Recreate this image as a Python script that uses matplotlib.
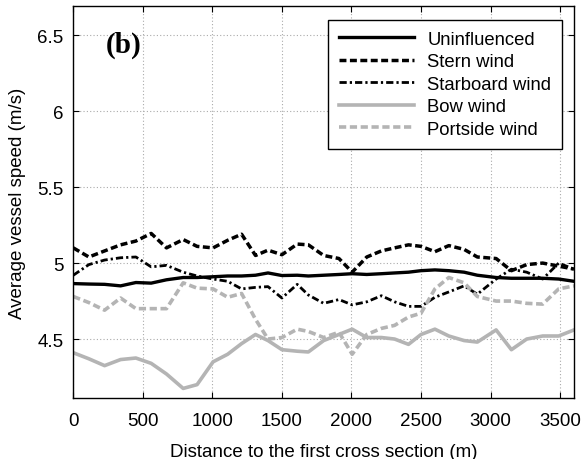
import matplotlib
matplotlib.use("Agg")
import matplotlib.pyplot as plt

distance = [0, 112, 225, 340, 450, 560, 670, 790, 890, 1005, 1110, 1210, 1310, 1400,
            1500, 1610, 1690, 1800, 1910, 2005, 2110, 2215, 2310, 2410, 2500, 2600,
            2700, 2810, 2905, 3040, 3150, 3260, 3375, 3490, 3600]

uninfluenced = [4.865, 4.862, 4.86, 4.85, 4.872, 4.868, 4.89, 4.905, 4.905, 4.91, 4.915,
                4.915, 4.92, 4.935, 4.918, 4.92, 4.915, 4.92, 4.925, 4.93, 4.925, 4.93,
                4.935, 4.94, 4.95, 4.955, 4.95, 4.94, 4.92, 4.905, 4.9, 4.9, 4.9, 4.895, 4.88]

stern = [5.10, 5.04, 5.08, 5.12, 5.145, 5.195, 5.10, 5.155, 5.11, 5.10, 5.15, 5.19, 5.05,
         5.085, 5.055, 5.125, 5.12, 5.05, 5.03, 4.94, 5.04, 5.08, 5.10, 5.12, 5.11, 5.075,
         5.115, 5.09, 5.04, 5.03, 4.95, 4.99, 5.00, 4.98, 4.96]

starboard = [4.92, 4.99, 5.02, 5.035, 5.04, 4.975, 4.985, 4.94, 4.915, 4.895, 4.88, 4.83,
             4.84, 4.845, 4.77, 4.86, 4.79, 4.735, 4.76, 4.725, 4.745, 4.785, 4.745, 4.715,
             4.715, 4.775, 4.81, 4.85, 4.795, 4.895, 4.96, 4.94, 4.895, 5.0, 4.96]

bow = [4.41, 4.37, 4.325, 4.365, 4.375, 4.34, 4.27, 4.175, 4.20, 4.35, 4.40, 4.47, 4.53,
       4.49, 4.43, 4.42, 4.415, 4.49, 4.53, 4.565, 4.51, 4.51, 4.50, 4.465, 4.53, 4.565,
       4.52, 4.49, 4.48, 4.56, 4.43, 4.50, 4.52, 4.52, 4.56]

portside = [4.78, 4.74, 4.69, 4.77, 4.70, 4.70, 4.70, 4.87, 4.835, 4.83, 4.775, 4.80, 4.63,
            4.50, 4.51, 4.565, 4.55, 4.51, 4.545, 4.40, 4.53, 4.57, 4.59, 4.645, 4.67, 4.83,
            4.905, 4.87, 4.78, 4.75, 4.75, 4.735, 4.73, 4.83, 4.85]

labels = ["Uninfluenced", "Stern wind", "Starboard wind", "Bow wind", "Portside wind"]
xticks = [0, 500, 1000, 1500, 2000, 2500, 3000, 3500]
yticks = [4.5, 5, 5.5, 6, 6.5]
yticklabels = ["4.5", "5", "5.5", "6", "6.5"]

plt.rcParams['font.family'] = ['Liberation Sans', 'DejaVu Sans']

fig = plt.figure(figsize=(5.84, 4.60), dpi=100)
ax = fig.add_axes([73.3 / 584, 1 - 399.3 / 460, (574 - 73.3) / 584, (399.3 - 7.3) / 460])

gray = '#b4b4b4'
ax.plot(distance, uninfluenced, color='black', lw=2.4, label=labels[0])
ax.plot(distance, stern, color='black', lw=2.5, linestyle=(0, (2.0, 1.0)), label=labels[1])
ax.plot(distance, starboard, color='black', lw=2.0, linestyle=(0, (2.6, 1.1, 0.8, 1.1)), label=labels[2])
ax.plot(distance, bow, color=gray, lw=2.6, label=labels[3])
ax.plot(distance, portside, color=gray, lw=2.6, linestyle=(0, (2.0, 1.0)), label=labels[4])

ax.set_xlim(0, 3600)
ax.set_ylim(4.11, 6.69)
ax.set_xticks(xticks)
ax.set_yticks(yticks)
ax.set_yticklabels(yticklabels)
ax.grid(True, color='#aaaaaa', linestyle=(0, (1, 2)), linewidth=0.8)
ax.tick_params(direction='in', length=4, width=0.8, labelsize=13.5, top=True, right=True,
               labeltop=False, labelright=False, colors='black')
ax.tick_params(axis='x', pad=10)
ax.tick_params(axis='y', pad=7)
for s in ax.spines.values():
    s.set_linewidth(1.0)

ax.set_xlabel("Distance to the first cross section (m)", fontsize=13.5, labelpad=10)
ax.set_ylabel("Average vessel speed (m/s)", fontsize=13.5, labelpad=8)

ax.text(0.065, 0.904, "(b)", transform=ax.transAxes, fontsize=21, fontweight='bold',
        family=['Liberation Serif', 'DejaVu Serif'], va='center', ha='left')

leg = ax.legend(loc='upper right', bbox_to_anchor=(0.977, 0.966), fontsize=13.3,
                handlelength=4.1, frameon=True, fancybox=False, borderpad=0.6,
                labelspacing=0.3, handletextpad=0.7, borderaxespad=0)
leg.get_frame().set_edgecolor('black')
leg.get_frame().set_linewidth(1.0)
leg.get_frame().set_alpha(1)

fig.savefig("out.png", dpi=100)
